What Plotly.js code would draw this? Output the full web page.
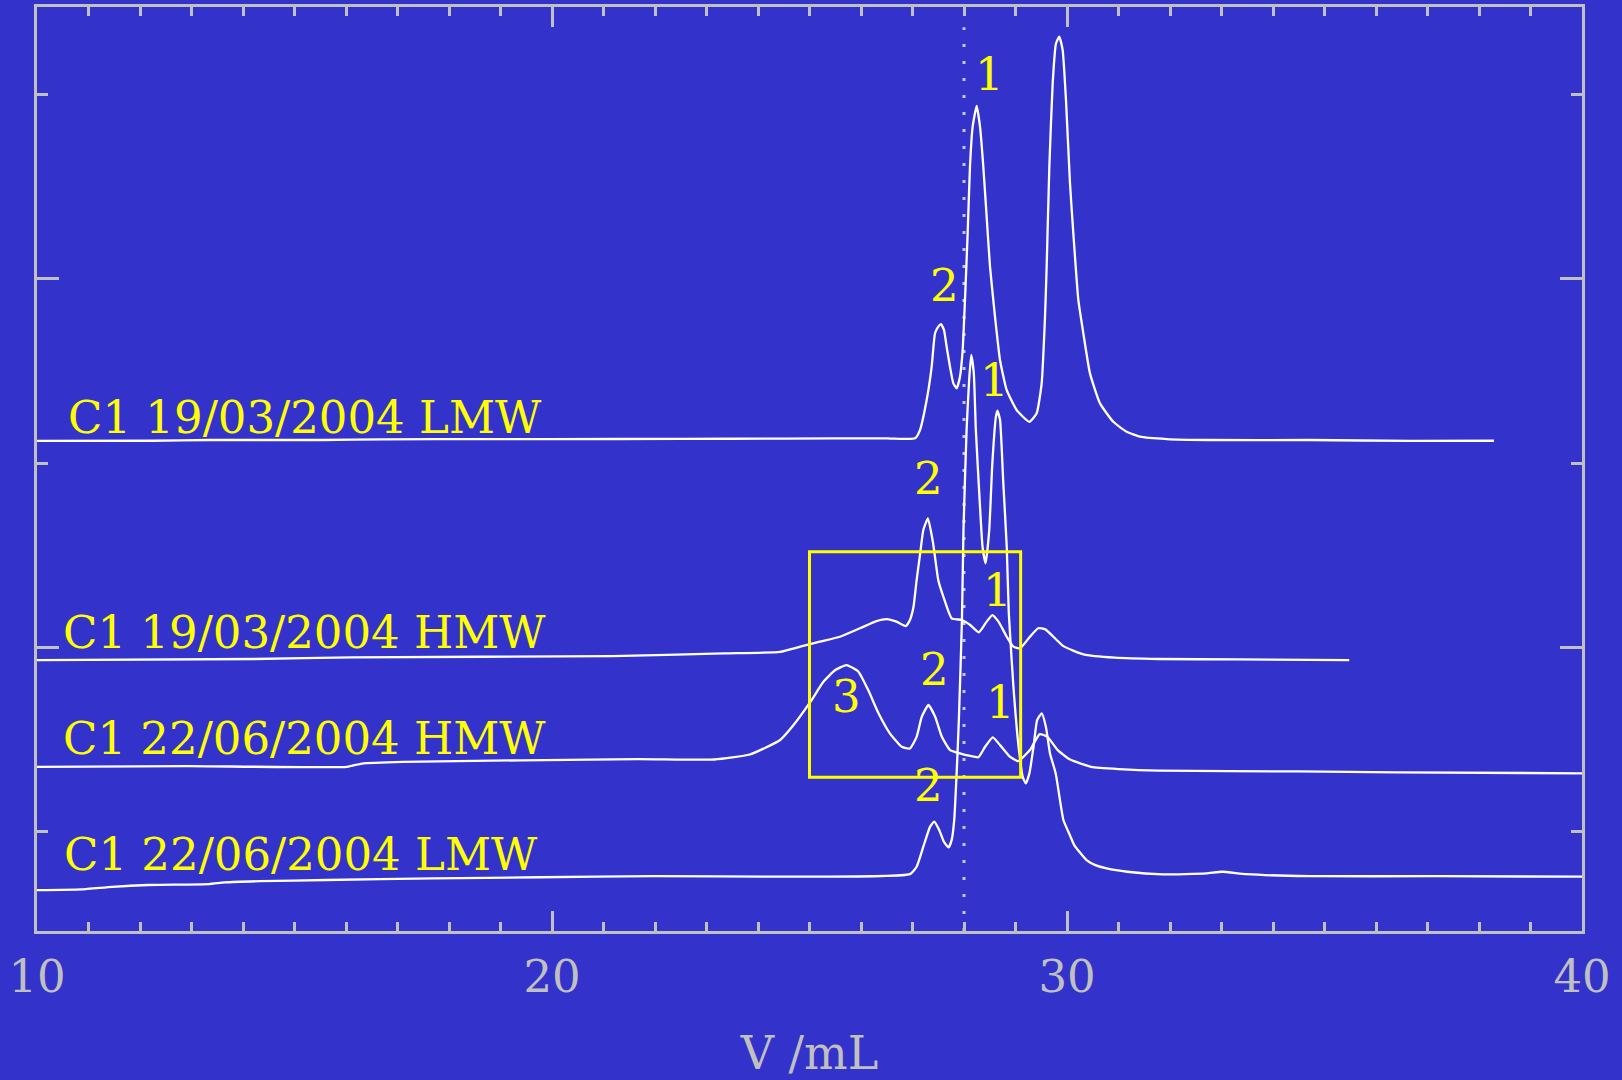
<!DOCTYPE html>
<html>
<head>
<meta charset="utf-8">
<script src="https://cdn.plot.ly/plotly-3.0.1.min.js"></script>
<style>html,body{margin:0;padding:0;background:#3333cc;}#chart{width:1622px;height:1080px;}</style>
</head>
<body>
<div id="chart"></div>
<script>
// ---- Data (elution volume V / mL vs. detector signal, traces offset vertically) ----
const lmw1903_x = [10, 12.25, 13.36, 15.55, 16.72, 18.80, 19.96, 22.5, 24.5, 26.5, 27.05, 27.145, 27.275, 27.372, 27.437, 27.501, 27.553, 27.611, 27.663, 27.728, 27.793, 27.857, 27.922, 27.974, 28.019, 28.071, 28.116, 28.168, 28.246, 28.311, 28.375, 28.440, 28.505, 28.602, 28.699, 28.828, 29.022, 29.268, 29.411, 29.508, 29.573, 29.605, 29.657, 29.722, 29.786, 29.851, 29.916, 29.980, 30.058, 30.123, 30.220, 30.317, 30.446, 30.641, 30.899, 31.158, 31.417, 31.94, 32.74, 34.72, 36.70, 38.29];
const lmw1903_y = [3.120, 3.121, 3.125, 3.125, 3.129, 3.130, 3.130, 3.131, 3.133, 3.134, 3.134, 3.179, 3.342, 3.523, 3.705, 3.741, 3.755, 3.723, 3.632, 3.523, 3.433, 3.406, 3.469, 3.614, 3.886, 4.248, 4.610, 4.828, 4.940, 4.828, 4.610, 4.338, 4.067, 3.795, 3.560, 3.397, 3.288, 3.224, 3.270, 3.433, 3.795, 4.067, 4.610, 5.063, 5.280, 5.317, 5.244, 4.973, 4.520, 4.248, 3.886, 3.705, 3.487, 3.324, 3.224, 3.170, 3.143, 3.130, 3.125, 3.125, 3.120, 3.121];

const hmw1903_x = [10, 14.23, 16.12, 21.17, 23.34, 24.43, 24.82, 25.20, 25.59, 25.98, 26.30, 26.50, 26.69, 26.87, 26.95, 27.02, 27.08, 27.15, 27.21, 27.30, 27.40, 27.50, 27.60, 27.76, 27.96, 28.12, 28.29, 28.44, 28.55, 28.67, 28.83, 28.96, 29.09, 29.28, 29.44, 29.58, 29.93, 30.32, 30.93, 31.78, 33.32, 35.48];
const hmw1903_y = [1.929, 1.935, 1.944, 1.951, 1.966, 1.974, 2.002, 2.029, 2.056, 2.102, 2.141, 2.152, 2.138, 2.114, 2.147, 2.219, 2.364, 2.511, 2.636, 2.699, 2.564, 2.364, 2.273, 2.156, 2.147, 2.120, 2.080, 2.138, 2.174, 2.138, 2.056, 2.002, 1.993, 2.056, 2.102, 2.096, 2.005, 1.960, 1.942, 1.935, 1.933, 1.929];

const hmw2206_x = [10, 12.92, 16.02, 16.31, 17.11, 21.67, 23.15, 23.84, 24.43, 24.69, 25.02, 25.27, 25.50, 25.72, 25.95, 26.14, 26.34, 26.56, 26.79, 26.95, 27.08, 27.18, 27.31, 27.44, 27.57, 27.73, 27.92, 28.12, 28.28, 28.41, 28.56, 28.70, 28.89, 29.05, 29.28, 29.47, 29.62, 29.82, 30.05, 30.47, 31.01, 31.78, 34.48, 36.40, 40.0];
const hmw2206_y = [1.349, 1.353, 1.349, 1.367, 1.376, 1.391, 1.389, 1.416, 1.495, 1.576, 1.703, 1.811, 1.875, 1.902, 1.866, 1.766, 1.640, 1.531, 1.458, 1.449, 1.512, 1.621, 1.685, 1.621, 1.512, 1.440, 1.422, 1.408, 1.401, 1.458, 1.509, 1.467, 1.404, 1.380, 1.440, 1.527, 1.512, 1.440, 1.390, 1.349, 1.337, 1.328, 1.324, 1.319, 1.314];

const lmw2206_x = [10, 10.86, 11.46, 12.15, 13.34, 13.64, 14.33, 15.62, 17.70, 19.78, 21.96, 24.43, 26.95, 27.08, 27.21, 27.34, 27.42, 27.52, 27.61, 27.70, 27.76, 27.81, 27.86, 27.90, 27.96, 27.99, 28.05, 28.10, 28.14, 28.19, 28.23, 28.30, 28.36, 28.42, 28.49, 28.55, 28.62, 28.65, 28.70, 28.76, 28.83, 28.87, 28.96, 29.06, 29.14, 29.20, 29.27, 29.35, 29.42, 29.51, 29.59, 29.67, 29.78, 29.93, 30.06, 30.14, 30.38, 30.55, 30.77, 31.17, 31.86, 32.70, 33.01, 33.48, 34.71, 37.17, 40.0];
const lmw2206_y = [0.679, 0.683, 0.697, 0.707, 0.712, 0.721, 0.728, 0.734, 0.743, 0.749, 0.755, 0.752, 0.766, 0.806, 0.915, 1.023, 1.051, 1.005, 0.942, 0.911, 0.951, 1.060, 1.332, 1.603, 2.147, 2.636, 3.179, 3.451, 3.587, 3.489, 3.179, 2.817, 2.545, 2.455, 2.636, 2.998, 3.252, 3.284, 3.234, 2.908, 2.545, 2.183, 1.784, 1.458, 1.295, 1.259, 1.314, 1.458, 1.603, 1.640, 1.567, 1.422, 1.314, 1.060, 0.975, 0.924, 0.842, 0.815, 0.797, 0.779, 0.765, 0.770, 0.779, 0.766, 0.755, 0.755, 0.752];

// trace labels
const traceNames = ["C1 19/03/2004 LMW", "C1 19/03/2004 HMW", "C1 22/06/2004 HMW", "C1 22/06/2004 LMW"];
const traceLabelX = [10.56, 10.46, 10.46, 10.48];
const traceLabelY = [3.247, 2.079, 1.505, 0.875];

// peak number labels
const peakText = ["1", "2", "1", "2", "1", "2", "3", "1", "2"];
const peakX = [28.49, 27.63, 28.60, 27.32, 28.65, 27.42, 25.72, 28.70, 27.32];
const peakY = [5.109, 3.967, 3.451, 2.917, 2.310, 1.879, 1.730, 1.697, 1.250];

// reference line and highlight region
const refVolume = 28;
const boxX = [25.0, 29.1];
const boxY = [1.292, 2.518];

const xRange = [10, 40];
const yRange = [0.457, 5.478];
const xTickVals = [10, 20, 30, 40];
const xTickText = ["10", "20", "30", "40"];

// ---- Styling ----
const BG = "#3333cc";
const AX = "#c0c0c0";
const YEL = "#ffff00";
const FONT = "DejaVu Serif";

const lineStyle = {color: "#ffffff", width: 2.3, shape: "spline", smoothing: 0.45};
const series = [[lmw1903_x, lmw1903_y], [hmw1903_x, hmw1903_y], [hmw2206_x, hmw2206_y], [lmw2206_x, lmw2206_y]];
const traces = series.map((s, i) => ({
  x: s[0], y: s[1], type: "scatter", mode: "lines", name: traceNames[i],
  line: lineStyle, hoverinfo: "skip"
}));

const annotations = [];
traceNames.forEach((t, i) => annotations.push({
  x: traceLabelX[i], y: traceLabelY[i], xref: "x", yref: "y", text: t,
  showarrow: false, xanchor: "left", yanchor: "middle",
  font: {family: FONT, size: 45, color: YEL}
}));
peakText.forEach((t, i) => annotations.push({
  x: peakX[i], y: peakY[i], xref: "x", yref: "y", text: t,
  showarrow: false, xanchor: "center", yanchor: "middle",
  font: {family: FONT, size: 45, color: YEL}
}));

const layout = {
  width: 1622, height: 1080,
  paper_bgcolor: BG, plot_bgcolor: BG,
  margin: {l: 37, r: 40, t: 7, b: 149},
  showlegend: false,
  font: {family: FONT, color: AX},
  xaxis: {
    range: xRange, showgrid: false, zeroline: false,
    showline: true, linecolor: AX, linewidth: 3, mirror: "ticks",
    ticks: "inside", ticklen: 20, tickwidth: 3, tickcolor: AX,
    tickmode: "array", tickvals: xTickVals, ticktext: xTickText,
    tickfont: {family: FONT, size: 45, color: AX},
    ticklabelstandoff: 4,
    minor: {dtick: 1, tick0: 0, ticks: "inside", ticklen: 9, tickwidth: 3, tickcolor: AX, showgrid: false},
    title: {text: "V /mL", font: {family: FONT, size: 46, color: AX}, standoff: 40}
  },
  yaxis: {
    range: yRange, showgrid: false, zeroline: false,
    showline: true, linecolor: AX, linewidth: 3, mirror: "ticks",
    ticks: "inside", ticklen: 22, tickwidth: 3, tickcolor: AX,
    tick0: 0, dtick: 2, showticklabels: false,
    minor: {dtick: 1, tick0: 0, ticks: "inside", ticklen: 11, tickwidth: 3, tickcolor: AX, showgrid: false}
  },
  shapes: [
    {type: "line", xref: "x", yref: "paper", x0: refVolume, x1: refVolume, y0: 0, y1: 0.978,
     line: {color: "#c8c8dc", width: 3, dash: "3px,14px"}, layer: "below"},
    {type: "rect", xref: "x", yref: "y", x0: boxX[0], x1: boxX[1], y0: boxY[0], y1: boxY[1],
     line: {color: YEL, width: 3}, fillcolor: "rgba(0,0,0,0)"}
  ],
  annotations: annotations
};

Plotly.newPlot("chart", traces, layout, {displayModeBar: false, staticPlot: true});
</script>
</body>
</html>
